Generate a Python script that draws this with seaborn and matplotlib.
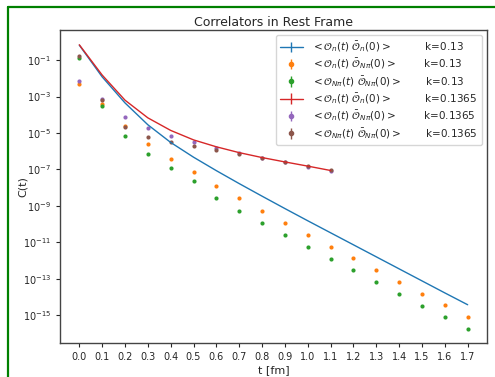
import numpy as np
import pandas as pd
import matplotlib
matplotlib.use("Agg")
import matplotlib.pyplot as plt
import matplotlib.ticker as mticker
from matplotlib.lines import Line2D
import seaborn as sns

# --- datos (log10 de C(t)) ---
t_013 = np.round(np.arange(0, 18) * 0.1, 1)
t_01365 = np.round(np.arange(0, 12) * 0.1, 1)

log_nn_013 = [-0.18, -1.92, -3.35, -4.55, -5.52, -6.33, -7.07, -7.78, -8.47,
              -9.15, -9.82, -10.48, -11.14, -11.80, -12.46, -13.12, -13.78, -14.43]
log_nnpi_013 = [-2.30, -3.42, -4.63, -5.58, -6.41, -7.17, -7.91, -8.58, -9.26,
                -9.92, -10.58, -11.24, -11.88, -12.54, -13.18, -13.82, -14.46, -15.10]
log_npinpi_013 = [-0.87, -3.54, -5.16, -6.15, -6.93, -7.66, -8.58, -9.26, -9.93,
                  -10.58, -11.24, -11.90, -12.54, -13.18, -13.83, -14.48, -15.10, -15.74]
log_nn_01365 = [-0.16, -1.82, -3.20, -4.17, -4.86, -5.38, -5.76, -6.08, -6.35,
                -6.59, -6.82, -7.06]
log_nnpi_01365 = [-2.15, -3.14, -4.12, -4.70, -5.16, -5.52, -5.80, -6.09, -6.36,
                  -6.60, -6.86, -7.10]
log_npinpi_01365 = [-0.76, -3.21, -4.66, -5.23, -5.51, -5.71, -5.93, -6.15, -6.37,
                    -6.60, -6.82, -7.06]

etiquetas = [
    r"$<\mathcal{O}_n(t)\ \bar{\mathcal{O}}_n(0)>$" + "          k=0.13",
    r"$<\mathcal{O}_n(t)\ \bar{\mathcal{O}}_{N\pi}(0)>$" + "        k=0.13",
    r"$<\mathcal{O}_{N\pi}(t)\ \bar{\mathcal{O}}_{N\pi}(0)>$" + "       k=0.13",
    r"$<\mathcal{O}_n(t)\ \bar{\mathcal{O}}_n(0)>$" + "          k=0.1365",
    r"$<\mathcal{O}_n(t)\ \bar{\mathcal{O}}_{N\pi}(0)>$" + "        k=0.1365",
    r"$<\mathcal{O}_{N\pi}(t)\ \bar{\mathcal{O}}_{N\pi}(0)>$" + "       k=0.1365",
]

sns.set_style("ticks")
plt.rcParams["font.family"] = ["DejaVu Sans"]
colores = sns.color_palette("tab10")

fig = plt.figure(figsize=(4.95, 3.77), dpi=100)
ax = fig.add_axes([0.121, 0.0902, 0.863, 0.830])

series = [
    (t_013, log_nn_013, "line"),
    (t_013, log_nnpi_013, "dot"),
    (t_013, log_npinpi_013, "dot"),
    (t_01365, log_nn_01365, "line"),
    (t_01365, log_nnpi_01365, "dot"),
    (t_01365, log_npinpi_01365, "dot"),
]

handles = []
for i, (tt, lv, tipo) in enumerate(series):
    df = pd.DataFrame({"t": tt, "C": 10.0 ** np.array(lv)})
    if tipo == "line":
        sns.lineplot(data=df, x="t", y="C", color=colores[i], lw=1.0, ax=ax, legend=False)
        h = ax.errorbar([], [], yerr=[], color=colores[i], lw=1.0, elinewidth=1.0)
    else:
        sns.scatterplot(data=df, x="t", y="C", color=colores[i], s=9, linewidth=0, ax=ax, legend=False)
        h = ax.errorbar([], [], yerr=[], color=colores[i], fmt="o", ms=3, elinewidth=1.0)
    handles.append(h)

ax.set_yscale("log")
ax.set_xlim(-0.085, 1.785)
ax.set_ylim(10 ** -16.53, 10 ** 0.648)
ax.set_xticks(t_013)
ax.xaxis.set_major_formatter(mticker.FormatStrFormatter("%.1f"))
ax.set_yticks(10.0 ** np.arange(-15, 0, 2))
ax.yaxis.set_minor_locator(mticker.NullLocator())
ax.tick_params(labelsize=7, length=3, width=0.8)
for s in ax.spines.values():
    s.set_linewidth(1.0)
    s.set_color("#444444")

ax.set_title("Correlators in Rest Frame", fontsize=9, pad=3)
ax.set_xlabel("t [fm]", fontsize=8, labelpad=2)
ax.set_ylabel("C(t)", fontsize=8)
ax.yaxis.set_label_coords(-0.075, 0.5)

ax.legend(handles, etiquetas, loc="upper right", fontsize=7.5, frameon=True,
          labelspacing=0.25, handlelength=2.2, borderpad=0.4)

# marco verde de la figura (recortado a la derecha y abajo)
y_top = 1 - 7 / 377
x_left = 8 / 495
fig.add_artist(Line2D([x_left, 1.0], [y_top, y_top], color="green", lw=1.6, transform=fig.transFigure))
fig.add_artist(Line2D([x_left, x_left], [0.0, y_top], color="green", lw=1.6, transform=fig.transFigure))

fig.savefig("out.png", dpi=100)
